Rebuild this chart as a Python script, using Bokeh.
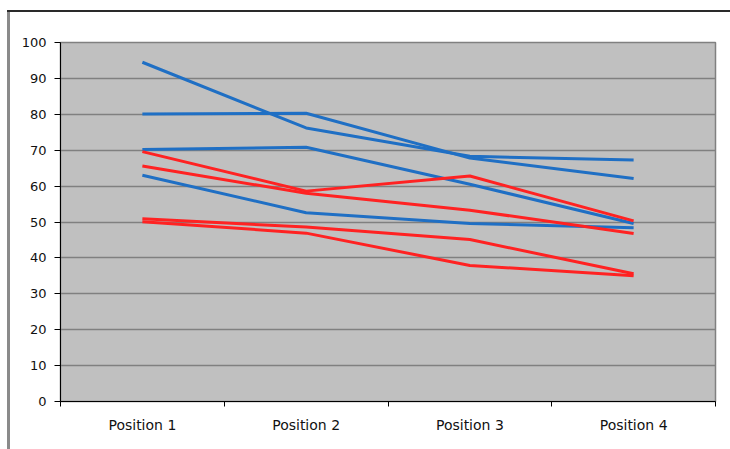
from bokeh.plotting import figure
from bokeh.models import FactorRange, Range1d, LinearAxis, CategoricalAxis, FixedTicker
from bokeh.embed import file_html
from bokeh.resources import INLINE

# Categories and series values
positions = ["Position 1", "Position 2", "Position 3", "Position 4"]

blue_a = [94.5, 76.2, 68.3, 67.3]
blue_b = [80.1, 80.3, 67.8, 62.1]
blue_c = [70.2, 70.8, 60.5, 49.6]
blue_d = [63.0, 52.6, 49.6, 48.4]

red_a = [69.6, 58.6, 62.8, 50.3]
red_b = [65.6, 58.0, 53.3, 46.8]
red_c = [50.9, 48.6, 45.1, 35.6]
red_d = [50.1, 46.9, 37.9, 35.0]

y_ticks = [0, 10, 20, 30, 40, 50, 60, 70, 80, 90, 100]

BLUE = "#1f6fc4"
RED = "#ff2222"
FONT = "DejaVu Sans"

p = figure(
    x_range=FactorRange(*positions),
    y_range=Range1d(0, 100),
    width=730, height=449,
    output_backend="svg",
    toolbar_location=None,
    x_axis_location=None,
    y_axis_location="left",
    min_border_left=60, min_border_right=15,
    min_border_top=42, min_border_bottom=48,
    background_fill_color="#c0c0c0",
    border_fill_alpha=0,
)
p.outline_line_color = "#808080"
p.outline_line_width = 1.5

# chart border (top and left edges) painted behind the transparent border area
p.styles = {
    "background-color": "white",
    "background-image": "linear-gradient(#2a2a2a, #2a2a2a), linear-gradient(#8a8a8a, #8a8a8a)",
    "background-size": "723px 2px, 3px 440px",
    "background-position": "7px 10px, 7px 10px",
    "background-repeat": "no-repeat",
}

# y axis and horizontal gridlines
p.yaxis.ticker = FixedTicker(ticks=y_ticks)
p.yaxis.major_tick_in = 0
p.yaxis.major_tick_out = 6
p.yaxis.minor_tick_line_color = None
p.yaxis.axis_line_color = "black"
p.yaxis.major_tick_line_color = "black"
p.yaxis.major_label_text_font = FONT
p.yaxis.major_label_text_font_size = "13px"
p.yaxis.major_label_text_color = "#111111"
p.yaxis.major_label_standoff = 8

p.ygrid.grid_line_color = "#808080"
p.ygrid.grid_line_width = 1.5
p.xgrid.visible = False

# x axis: tick marks between categories, labels centred under each category
tick_axis = LinearAxis(
    ticker=FixedTicker(ticks=[0, 1, 2, 3, 4]),
    major_label_text_font_size="1px",
    major_label_text_alpha=0,
    major_label_standoff=0,
    major_tick_in=0, major_tick_out=5,
    minor_tick_line_color=None,
    axis_line_color="black",
    major_tick_line_color="black",
)
label_axis = CategoricalAxis(
    axis_line_color=None,
    major_tick_line_color=None,
    minor_tick_line_color=None,
    major_label_standoff=4,
    major_label_text_font=FONT,
    major_label_text_font_size="14px",
    major_label_text_color="#111111",
)
p.add_layout(tick_axis, "below")
p.add_layout(label_axis, "below")

# series
for ys in (blue_a, blue_b, blue_c, blue_d):
    p.line(positions, ys, line_color=BLUE, line_width=3)
for ys in (red_a, red_b, red_c, red_d):
    p.line(positions, ys, line_color=RED, line_width=3)

open("out.html", "w").write(file_html(p, INLINE))
